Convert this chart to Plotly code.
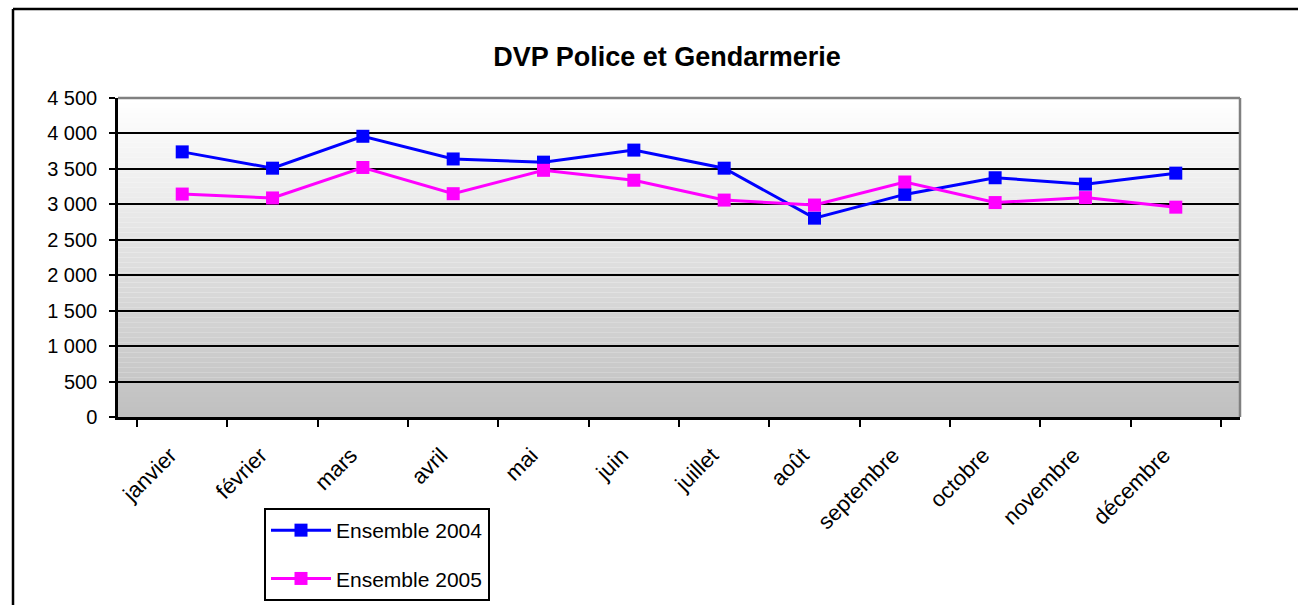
import plotly.graph_objects as go

# ---------------- data ----------------
months = ["janvier", "février", "mars", "avril", "mai", "juin", "juillet",
          "août", "septembre", "octobre", "novembre", "décembre"]
ens_2004 = [3740, 3510, 3960, 3640, 3595, 3765, 3510, 2805, 3140, 3375, 3285, 3440]
ens_2005 = [3145, 3090, 3520, 3150, 3480, 3340, 3060, 2990, 3315, 3025, 3095, 2960]
y_ticks = [0, 500, 1000, 1500, 2000, 2500, 3000, 3500, 4000, 4500]

# ---------------- geometry (body margin removed by post_script) ----------------
W, H = 1298, 605
PX0, PX1, PY0, PY1 = 118, 1240, 98, 417          # plot area in page pixels
L, T = PX0, PY0
PW, PH = PX1 - PX0, PY1 - PY0
R, B = W - L - PW, H - T - PH


def px_x(px):
    return (px - PX0) / PW


def px_y(py):
    return (PY1 - py) / PH


FONT = "Arial, 'Liberation Sans', sans-serif"

fig = go.Figure()
fig.add_trace(go.Scatter(
    x=months, y=ens_2004, name="Ensemble 2004", mode="lines+markers",
    line=dict(color="#0000ff", width=3),
    marker=dict(symbol="square", size=13, color="#0000ff"),
    legendgroup="a"))
fig.add_trace(go.Scatter(
    x=months, y=ens_2005, name="Ensemble 2005", mode="lines+markers",
    line=dict(color="#ff00ff", width=3),
    marker=dict(symbol="square", size=13, color="#ff00ff"),
    legendgroup="b"))

shapes = []
# gradient background of the plot area
n = 64
for i in range(n):
    t = (i + 0.5) / n
    v = int(round(255 - (255 - 192) * t))
    col = f"rgb({v},{v},{v})"
    shapes.append(dict(type="rect", xref="x domain", yref="y domain",
                       x0=0, x1=1, y0=1 - (i + 1) / n, y1=1 - i / n,
                       fillcolor=col, line=dict(width=0), layer="below"))
# grey top and right plot border
shapes.append(dict(type="line", xref="x domain", yref="y domain",
                   x0=0, x1=1, y0=1, y1=1, line=dict(color="#808080", width=2.5),
                   layer="above"))
shapes.append(dict(type="line", xref="x domain", yref="y domain",
                   x0=1, x1=1, y0=0, y1=1, line=dict(color="#808080", width=2.5),
                   layer="above"))
# outer chart border (left and top visible)
shapes.append(dict(type="line", xref="paper", yref="paper",
                   x0=px_x(13), x1=px_x(1300), y0=px_y(9), y1=px_y(9),
                   line=dict(color="black", width=2.5), layer="above"))
shapes.append(dict(type="line", xref="paper", yref="paper",
                   x0=px_x(13), x1=px_x(13), y0=px_y(9), y1=px_y(610),
                   line=dict(color="black", width=2.5), layer="above"))

fig.update_layout(
    width=W, height=H,
    margin=dict(l=L, r=R, t=T, b=B, autoexpand=False),
    paper_bgcolor="white", plot_bgcolor="white",
    separators=", ",
    font=dict(family=FONT, size=20, color="black"),
    title=dict(text="<b>DVP Police et Gendarmerie</b>",
               font=dict(family=FONT, size=27, color="black"),
               x=px_x(667), xref="paper", xanchor="center",
               y=1 - 57 / H, yref="container", yanchor="middle"),
    shapes=shapes,
    showlegend=True,
    legend=dict(x=px_x(264), y=px_y(508), xanchor="left", yanchor="top",
                xref="paper", yref="paper",
                bgcolor="white", bordercolor="black", borderwidth=2,
                font=dict(family=FONT, size=21, color="black"),
                tracegroupgap=18, traceorder="grouped", itemwidth=60),
)
fig.update_xaxes(
    type="category", categoryorder="array", categoryarray=months,
    tickangle=-45, tickson="boundaries", ticks="outside", ticklen=7,
    tickwidth=2, tickcolor="black", ticklabelstandoff=14, ticklabelshift=-12,
    showline=True, linecolor="black", linewidth=2.5,
    showgrid=False, zeroline=False,
    tickfont=dict(family=FONT, size=22, color="black"),
)
fig.update_yaxes(
    range=[0, 4500], tickvals=y_ticks, tickformat=",d",
    ticks="outside", ticklen=6, tickwidth=2, tickcolor="black",
    ticklabelstandoff=8,
    showline=True, linecolor="black", linewidth=2.5,
    showgrid=True, gridcolor="black", gridwidth=2,
    zeroline=False,
    tickfont=dict(family=FONT, size=20, color="black"),
)

fig.write_html(
    "out.html",
    config={"displayModeBar": False},
    post_script=("document.body.style.margin='0';"
                 "document.documentElement.style.overflow='hidden';"
                 "document.body.style.overflow='hidden';"),
)
